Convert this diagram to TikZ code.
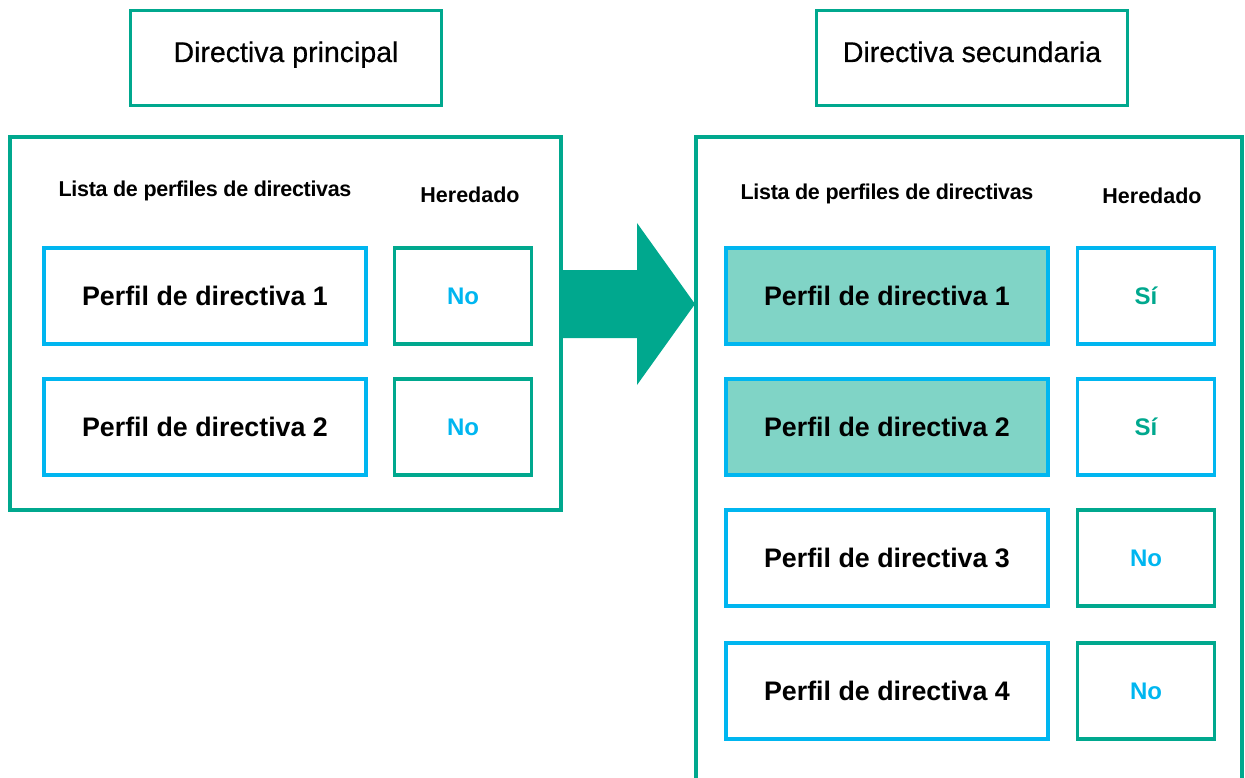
\documentclass[tikz,border=0pt]{standalone}
\usepackage{fontspec}
\setmainfont{Liberation Sans}
\newfontfamily\titlefont[FakeBold=0.6]{Liberation Sans}
\definecolor{kgreen}{HTML}{00A88E}
\definecolor{kcyan}{HTML}{00B6F0}
\definecolor{kfill}{HTML}{80D4C6}
\begin{document}
\begin{tikzpicture}[x=1pt,y=-1pt,
  box/.style={draw, line width=3.2pt, inner sep=0pt},
  titlebox/.style={box, draw=kgreen, minimum width=311pt, minimum height=95pt, text height=20pt, text depth=12pt, font=\titlefont\fontsize{28.5}{32}\selectfont},
  profbox/.style={box, draw=kcyan, minimum width=322pt, minimum height=96pt, font=\bfseries\fontsize{26.8}{30}\selectfont},
  inhbox/.style={box, minimum width=137pt, minimum height=96pt, font=\bfseries\fontsize{24}{28}\selectfont},
  hdr/.style={font=\bfseries\fontsize{21.5}{25}\selectfont, inner sep=0pt},
  panel/.style={draw=kgreen, line width=3.2pt}
]
\useasboundingbox (0,0) rectangle (1245,778);
% titles
\node[titlebox] (t1) at (286,58) {Directiva principal};
\node[titlebox] (t2) at (972,58) {Directiva secundaria};
% panels
\draw[panel] (10,137) rectangle (561,510);
\draw[panel] (1242,790) -- (1242,137) -- (696,137) -- (696,790);
% arrow
\fill[kgreen] (560,270) -- (637,270) -- (637,223) -- (695,304) -- (637,385) -- (637,338) -- (560,338) -- cycle;
% headers
\node[hdr] (h1) at (205,191) {\addfontfeatures{LetterSpace=-1.5}Lista de perfiles de directivas};
\node[hdr] (h2) at (470,195) {Heredado};
\node[hdr] (h3) at (887,194) {\addfontfeatures{LetterSpace=-1.5}Lista de perfiles de directivas};
\node[hdr] (h4) at (1152,196) {Heredado};
% left rows
\node[profbox] (p1) at (205,296) {Perfil de directiva 1};
\node[profbox] (p2) at (205,427) {Perfil de directiva 2};
\node[inhbox, draw=kgreen, text=kcyan] (i1) at (463,296) {No};
\node[inhbox, draw=kgreen, text=kcyan] (i2) at (463,427) {No};
% right rows
\node[profbox, fill=kfill] (q1) at (887,296) {Perfil de directiva 1};
\node[profbox, fill=kfill] (q2) at (887,427) {Perfil de directiva 2};
\node[profbox] (q3) at (887,558) {Perfil de directiva 3};
\node[profbox] (q4) at (887,691) {Perfil de directiva 4};
\node[inhbox, draw=kcyan, text=kgreen] (j1) at (1146,296) {Sí};
\node[inhbox, draw=kcyan, text=kgreen] (j2) at (1146,427) {Sí};
\node[inhbox, draw=kgreen, text=kcyan] (j3) at (1146,558) {No};
\node[inhbox, draw=kgreen, text=kcyan] (j4) at (1146,691) {No};
\end{tikzpicture}
\end{document}
